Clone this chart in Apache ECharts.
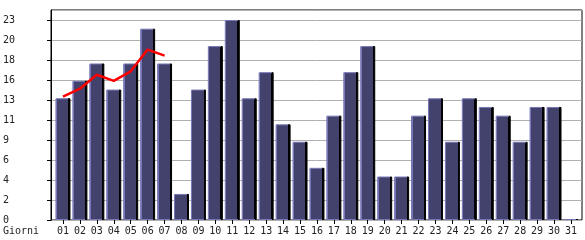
<!DOCTYPE html>
<html>
<head>
<meta charset="utf-8">
<script src="https://cdn.jsdelivr.net/npm/echarts@6/dist/echarts.min.js"></script>
<style>
html,body{margin:0;padding:0;background:#fff;}
#c{width:585px;height:240px;}
</style>
</head>
<body>
<div id="c"></div>
<script>
var days = ['01','02','03','04','05','06','07','08','09','10','11','12','13','14','15','16','17','18','19','20','21','22','23','24','25','26','27','28','29','30','31'];
var visits = [14,16,18,15,18,22,18,3,15,20,23,14,17,11,9,6,12,17,20,5,5,12,14,9,14,13,12,9,13,13,0.1];
var trend = [14.2,15.1,16.7,16.0,17.1,19.6,18.9];
var axisName = 'Giorni';

var FONT = '"DejaVu Sans Mono", monospace';
var YMAX = 24.15, STEP = 2.3;
var LAV = '#7676b6', DARK = '#42426c';

var chart = echarts.init(document.getElementById('c'), null, {renderer:'canvas'});
chart.setOption({
  animation: false,
  backgroundColor: '#fff',
  grid: [
    {left: 51, top: 10, width: 531, height: 210, show: true, borderColor: '#000', borderWidth: 1, backgroundColor: 'transparent'},
    {left: 54.5, top: 10, width: 524.9, height: 210}
  ],
  xAxis: [
    {gridIndex: 0, type: 'value', min: 0, max: 1, show: false},
    {gridIndex: 1, type: 'category', data: days,
     axisLine: {show: false},
     axisTick: {show: true, alignWithLabel: true, length: 4, lineStyle: {color: '#000'}},
     axisLabel: {margin: 6, fontFamily: FONT, fontSize: 10, color: '#222', interval: 0},
     splitLine: {show: false}}
  ],
  yAxis: [
    {gridIndex: 0, type: 'value', min: 0, max: YMAX, interval: STEP,
     axisLine: {show: true, lineStyle: {color: '#000'}},
     axisTick: {show: true, length: 4, lineStyle: {color: '#000'}},
     splitLine: {show: true, lineStyle: {color: '#b0b0b0', width: 1}},
     axisLabel: {showMaxLabel: false, align: 'left', margin: 48, fontFamily: FONT, fontSize: 10, color: '#222',
       formatter: function(v){ return v > 23.5 ? '' : String(Math.floor(v + 1e-6)); }}},
    {gridIndex: 1, type: 'value', min: 0, max: YMAX, show: false}
  ],
  graphic: [
    {type: 'text', left: 3, top: 226, style: {text: axisName, font: '10px ' + FONT, fill: '#222'}}
  ],
  series: [
    {type: 'bar', xAxisIndex: 1, yAxisIndex: 1, data: visits, barWidth: 15, barMinHeight: 1,
     itemStyle: {
       color: new echarts.graphic.LinearGradient(0, 0, 1, 0, [
         {offset: 0, color: LAV}, {offset: 0.1, color: LAV}, {offset: 0.1, color: DARK},
         {offset: 0.84, color: DARK}, {offset: 0.84, color: '#000'}, {offset: 1, color: '#000'}]),
       borderColor: new echarts.graphic.LinearGradient(0, 0, 1, 0, [
         {offset: 0, color: LAV}, {offset: 0.86, color: LAV}, {offset: 0.86, color: '#000'}, {offset: 1, color: '#000'}]),
       borderWidth: 1
     }},
    {type: 'line', xAxisIndex: 1, yAxisIndex: 1, data: trend, symbol: 'none', z: 5,
     lineStyle: {color: '#ff0000', width: 2.5}}
  ]
});
</script>
</body>
</html>
